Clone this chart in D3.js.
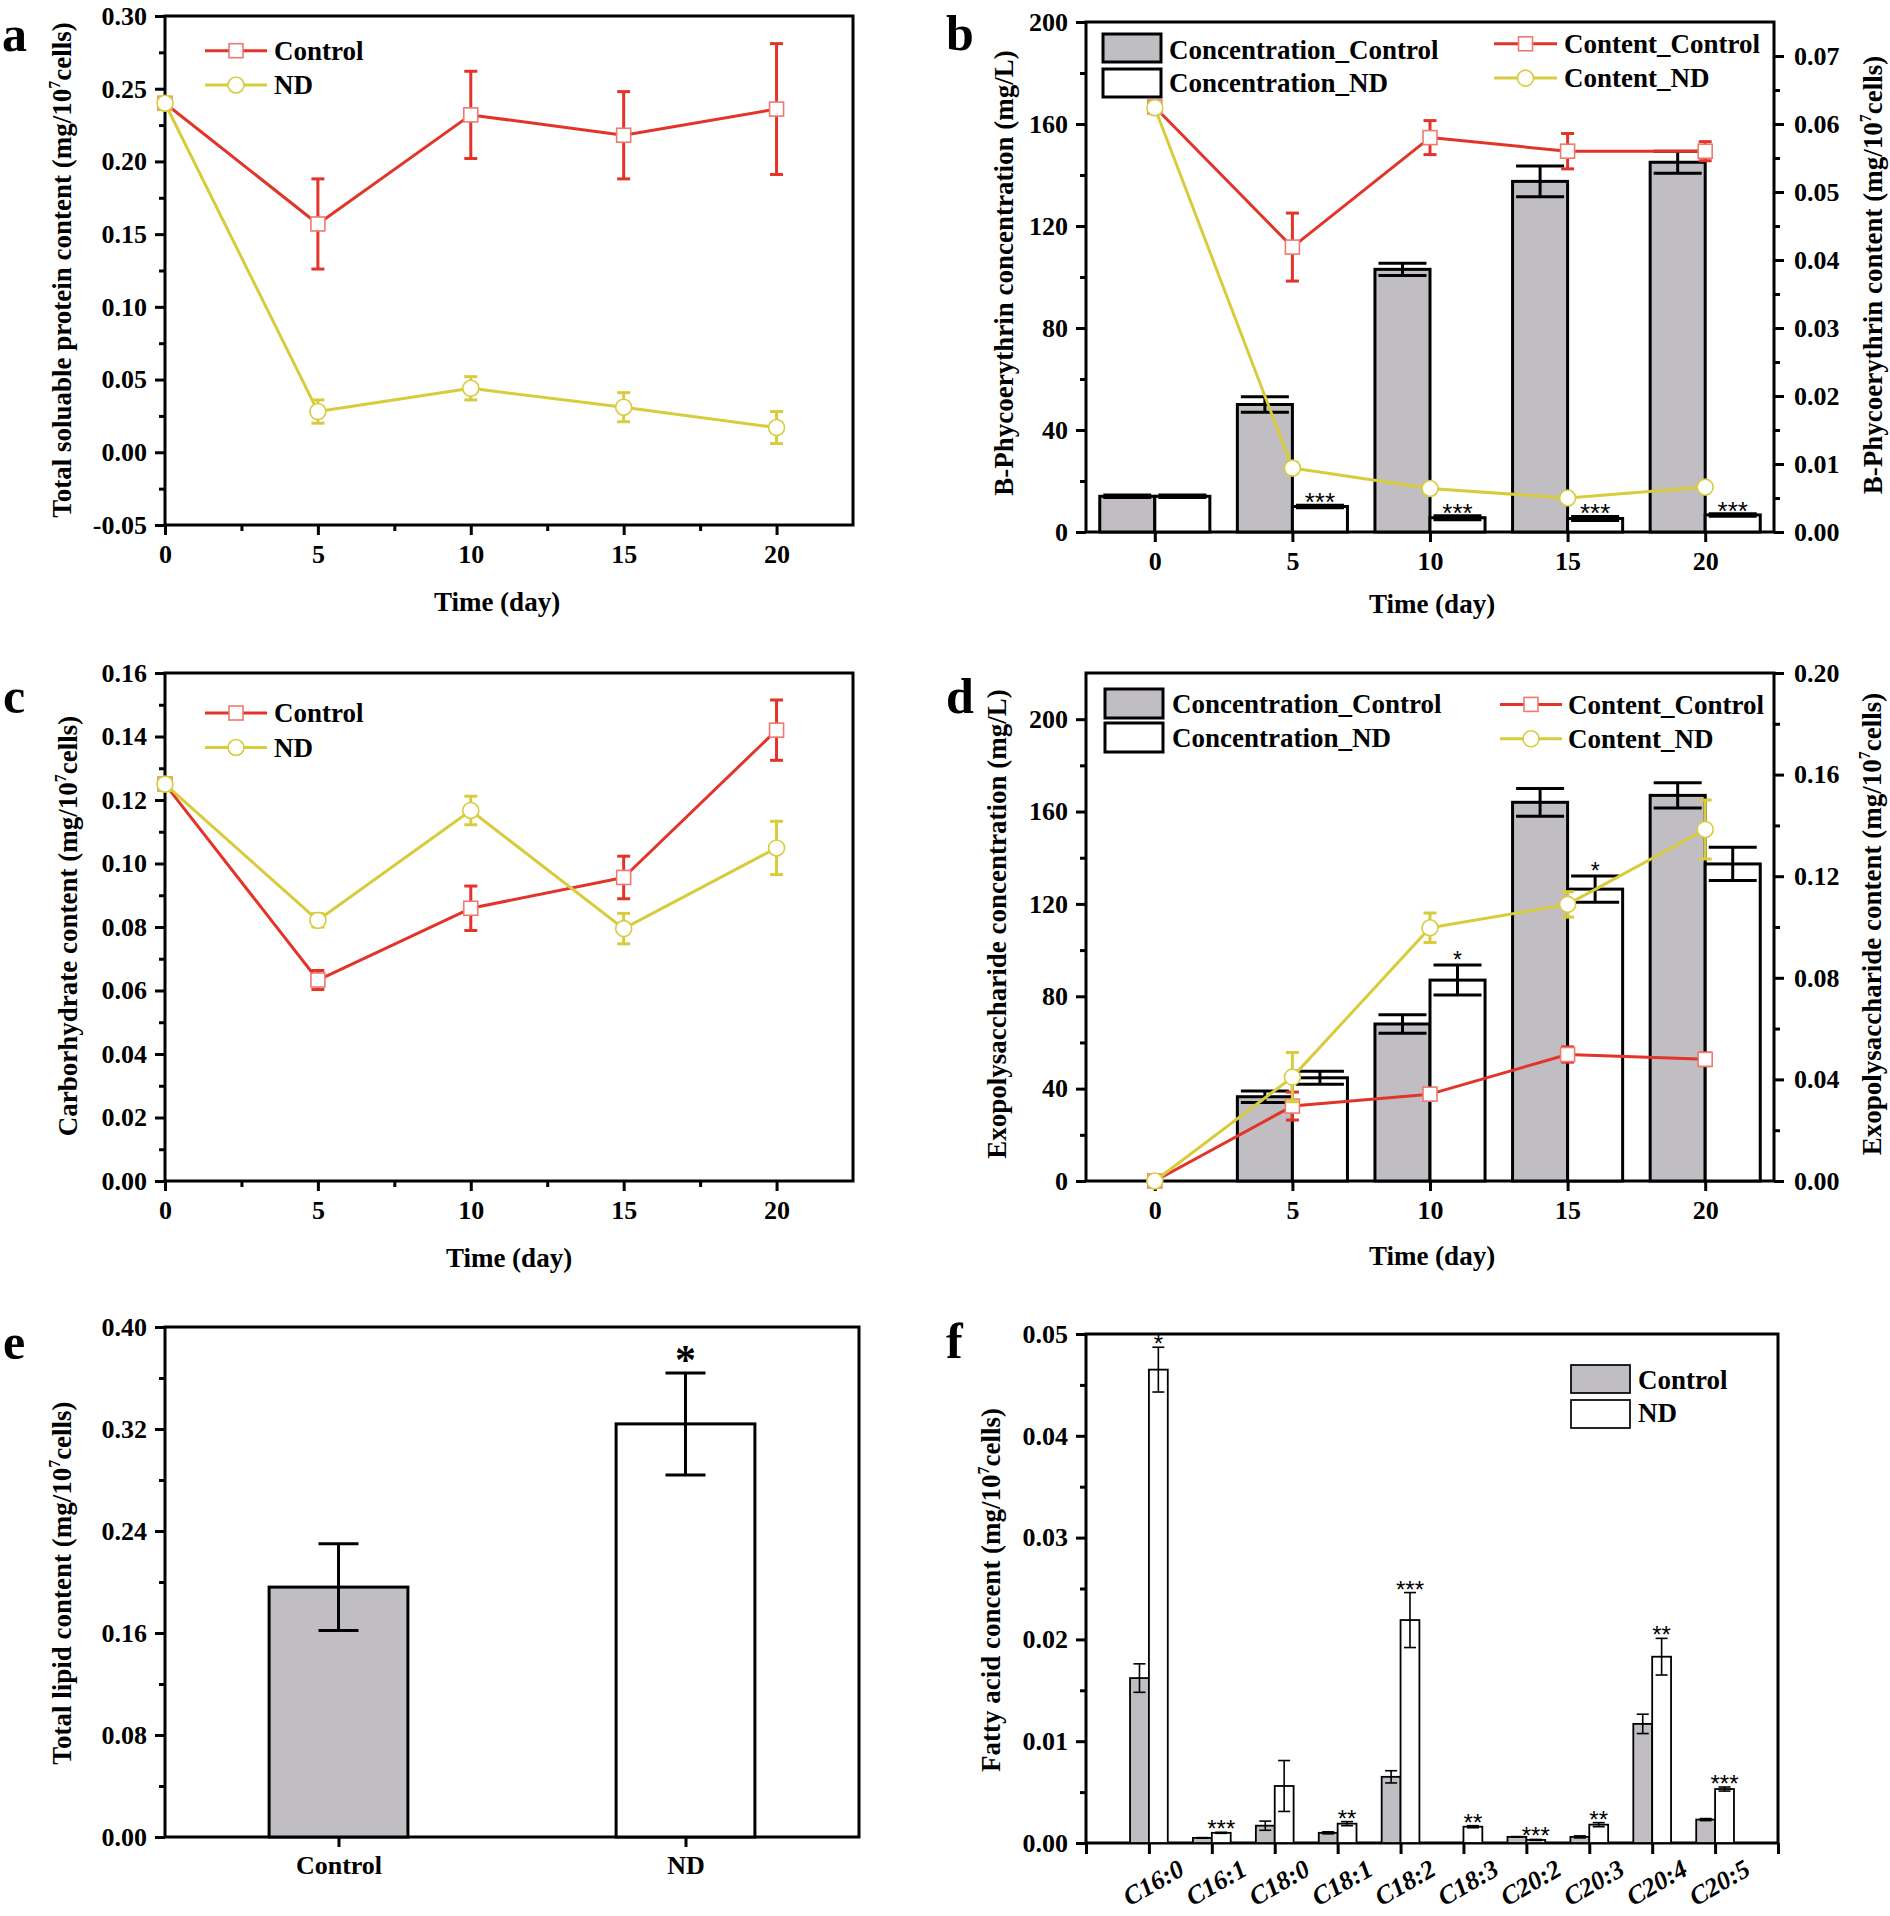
<!DOCTYPE html>
<html><head><meta charset="utf-8">
<script src="https://cdn.jsdelivr.net/npm/d3@7"></script>
<style>
body{margin:0;background:#fff;}
</style></head><body>
<svg id="chart" width="1890" height="1916" xmlns="http://www.w3.org/2000/svg"></svg>
<script>
// ---------------- DATA ----------------
const days = [0, 5, 10, 15, 20];
// (a) total soluble protein
const proteinControl = [0.240, 0.157, 0.232, 0.218, 0.236];
const proteinControlErr = [0.004, 0.031, 0.030, 0.030, 0.045];
const proteinND = [0.240, 0.028, 0.044, 0.031, 0.017];
const proteinNDErr = [0.004, 0.008, 0.008, 0.010, 0.011];
// (b) B-phycoerythrin
const peConcControl = [14, 50, 103, 137.5, 145];
const peConcControlErr = [0.5, 3, 2.4, 6, 4.3];
const peConcND = [14, 10, 5.6, 5.3, 6.7];
const peConcNDErr = [0.5, 0.5, 0.8, 0.8, 0.5];
const peContControl = [0.0625, 0.0419, 0.0580, 0.0560, 0.0560];
const peContControlErr = [0.0005, 0.0050, 0.0025, 0.0026, 0.0014];
const peContND = [0.0624, 0.0094, 0.0064, 0.0050, 0.0066];
const peContNDErr = [0.0005, 0.0008, 0.0007, 0.0005, 0.0005];
const peSig = ["", "***", "***", "***", "***"];
// (c) carbohydrate
const carbControl = [0.125, 0.0633, 0.0859, 0.0956, 0.1420];
const carbControlErr = [0.002, 0.0030, 0.0070, 0.0067, 0.0095];
const carbND = [0.125, 0.0821, 0.1167, 0.0795, 0.1049];
const carbNDErr = [0.002, 0.0021, 0.0045, 0.0048, 0.0084];
// (d) exopolysaccharide
const epsConcControl = [0, 36.5, 68, 164, 167];
const epsConcControlErr = [0, 2.5, 4, 6, 5.5];
const epsConcND = [0, 44.7, 87, 126.4, 137.3];
const epsConcNDErr = [0, 2.8, 6.5, 5.7, 7.2];
const epsContControl = [0, 0.0295, 0.0342, 0.0498, 0.0479];
const epsContControlErr = [0.001, 0.0055, 0.0020, 0.0030, 0.0025];
const epsContND = [0, 0.0409, 0.0997, 0.1089, 0.1384];
const epsContNDErr = [0.001, 0.0097, 0.0058, 0.0050, 0.0116];
const epsSig = ["", "", "*", "*", ""];
// (e) total lipid
const lipidGroups = ["Control", "ND"];
const lipidValues = [0.196, 0.324];
const lipidErr = [0.034, 0.040];
const lipidSig = ["", "*"];
// (f) fatty acids
const fattyAcids = ["C16:0","C16:1","C18:0","C18:1","C18:2","C18:3","C20:2","C20:3","C20:4","C20:5"];
const faControl = [0.0162, 0.0005, 0.0017, 0.0010, 0.0065, 0, 0.0006, 0.0006, 0.0117, 0.0023];
const faControlErr = [0.0014, 0.00003, 0.00045, 0.0001, 0.0006, 0, 0.00003, 0.0001, 0.00095, 0.0001];
const faND = [0.0465, 0.0010, 0.0056, 0.0019, 0.0219, 0.0016, 0.0003, 0.0018, 0.0183, 0.0053];
const faNDErr = [0.0022, 0.00005, 0.0025, 0.0002, 0.0027, 0.0001, 0.00005, 0.0002, 0.0018, 0.0002];
const faSig = ["*","***","","**","***","**","***","**","**","***"];
// tick values
const dayTicks = [0, 5, 10, 15, 20];
const dayMinor = [2.5, 7.5, 12.5, 17.5];
const aTicks = [-0.05, 0, 0.05, 0.10, 0.15, 0.20, 0.25, 0.30];
const cTicks = [0, 0.02, 0.04, 0.06, 0.08, 0.10, 0.12, 0.14, 0.16];
const bLeftTicks = [0, 40, 80, 120, 160, 200];
const bRightTicks = [0, 0.01, 0.02, 0.03, 0.04, 0.05, 0.06, 0.07];
const dLeftTicks = [0, 40, 80, 120, 160, 200];
const dRightTicks = [0, 0.04, 0.08, 0.12, 0.16, 0.20];
const eTicks = [0, 0.08, 0.16, 0.24, 0.32, 0.40];
const fTicks = [0, 0.01, 0.02, 0.03, 0.04, 0.05];

// ---------------- STYLE ----------------
const FONT = '"Liberation Serif","Times New Roman",serif';
const SANS = '"Liberation Sans",Arial,sans-serif';
const RED = "#e3342a", MRED = "#ee7a70", YEL = "#d8cc3c", GREY = "#c0bec2";
const svg = d3.select("#chart");
svg.append("rect").attr("width",1890).attr("height",1916).attr("fill","#fff");

function styleAxis(g, fs){
  g.select(".domain").remove();
  g.selectAll(".tick line").attr("stroke","#000").attr("stroke-width",3);
  g.selectAll(".tick text").attr("font-family",FONT).attr("font-weight","bold")
    .attr("font-size",fs).attr("fill","#000");
}
function addAxis(axis, tx, ty, fs){
  const g = svg.append("g").attr("transform",`translate(${tx},${ty})`).call(axis);
  styleAxis(g, fs || 26);
  return g;
}
function frame(P){
  svg.append("rect").attr("x",P.L).attr("y",P.T).attr("width",P.R-P.L).attr("height",P.B-P.T)
    .attr("fill","none").attr("stroke","#000").attr("stroke-width",3);
}
function text(x, y, s, opts){
  opts = opts || {};
  return svg.append("text").attr("x",x).attr("y",y).text(s)
    .attr("font-family",opts.family || FONT).attr("font-weight",opts.weight || "bold")
    .attr("font-size",opts.size || 27).attr("text-anchor",opts.anchor || "start").attr("fill","#000")
    .attr("font-style",opts.style || "normal");
}
function title(x, y, rot, pre, sup, post){
  const t = svg.append("text").attr("transform",`translate(${x},${y}) rotate(${rot})`)
    .attr("text-anchor","middle").attr("font-family",FONT).attr("font-weight","bold").attr("font-size",27).attr("fill","#000");
  t.append("tspan").text(pre);
  if (sup){
    t.append("tspan").attr("font-size",16).attr("dy",-11).text(sup);
    t.append("tspan").attr("dy",11).text(post);
  }
}
function errBar(x, yTop, yBot, color, cap, sw){
  const g = svg.append("g").attr("stroke",color).attr("stroke-width",sw);
  g.append("line").attr("x1",x).attr("x2",x).attr("y1",yTop).attr("y2",yBot);
  g.append("line").attr("x1",x-cap/2).attr("x2",x+cap/2).attr("y1",yTop).attr("y2",yTop);
  g.append("line").attr("x1",x-cap/2).attr("x2",x+cap/2).attr("y1",yBot).attr("y2",yBot);
}
function series(xScale, yScale, vals, errs, color, marker){
  const pts = vals.map((v,i)=>[xScale(days[i]), yScale(v)]);
  svg.append("path").datum(pts).attr("d", d3.line()).attr("fill","none")
    .attr("stroke",color).attr("stroke-width",3).attr("stroke-linejoin","round");
  vals.forEach((v,i)=>{ if(errs[i]) errBar(xScale(days[i]), yScale(v+errs[i]), yScale(v-errs[i]), color, 13, 3); });
  pts.forEach(p=>drawMarker(p[0], p[1], marker));
}
function drawMarker(x, y, marker){
  if (marker === "square"){
    svg.append("rect").attr("x",x-7).attr("y",y-7).attr("width",14).attr("height",14)
      .attr("fill","#fff").attr("stroke",MRED).attr("stroke-width",1.6);
  } else {
    svg.append("circle").attr("cx",x).attr("cy",y).attr("r",8)
      .attr("fill","#fff").attr("stroke",YEL).attr("stroke-width",1.6);
  }
}
function lineLegend(x1, x2, y, color, marker, label, tx, ty){
  svg.append("line").attr("x1",x1).attr("x2",x2).attr("y1",y).attr("y2",y).attr("stroke",color).attr("stroke-width",3);
  drawMarker((x1+x2)/2, y, marker);
  text(tx, ty, label);
}
function boxLegend(x, y, w, h, fill, sw, label, tx, ty){
  svg.append("rect").attr("x",x).attr("y",y).attr("width",w).attr("height",h)
    .attr("fill",fill).attr("stroke","#000").attr("stroke-width",sw);
  text(tx, ty, label);
}
const f2 = d => d.toFixed(2);
function minorVals(a, b, step){ const r=[]; for(let v=a; v<b-1e-9; v+=step) r.push(+v.toFixed(6)); return r; }

// ---------------- PANEL A ----------------
{
  const P = {L:165, R:853, T:16, B:525};
  const x = d3.scaleLinear().domain([0,22.5]).range([P.L,P.R]);
  const y = d3.scaleLinear().domain([-0.05,0.30]).range([P.B,P.T]);
  frame(P);
  addAxis(d3.axisLeft(y).tickValues(aTicks).tickFormat(f2).tickSize(10).tickPadding(8), P.L, 0);
  addAxis(d3.axisLeft(y).tickValues(minorVals(-0.025,0.30,0.05)).tickFormat("").tickSize(6), P.L, 0);
  addAxis(d3.axisBottom(x).tickValues(dayTicks).tickFormat(d3.format("d")).tickSize(10).tickPadding(10), 0, P.B);
  addAxis(d3.axisBottom(x).tickValues(dayMinor).tickFormat("").tickSize(6), 0, P.B);
  series(x, y, proteinControl, proteinControlErr, RED, "square");
  series(x, y, proteinND, proteinNDErr, YEL, "circle");
  lineLegend(205, 267, 50.7, RED, "square", "Control", 274, 59.5);
  lineLegend(205, 267, 85, YEL, "circle", "ND", 274, 93.5);
  title(71, 270, -90, "Total soluable protein content (mg/10", "7", "cells)");
  text(497, 611, "Time (day)", {anchor:"middle"});
  text(2, 51, "a", {size:50});
}

// ---------------- PANEL C ----------------
{
  const P = {L:165, R:853, T:673, B:1181};
  const x = d3.scaleLinear().domain([0,22.5]).range([P.L,P.R]);
  const y = d3.scaleLinear().domain([0,0.16]).range([P.B,P.T]);
  frame(P);
  addAxis(d3.axisLeft(y).tickValues(cTicks).tickFormat(f2).tickSize(10).tickPadding(8), P.L, 0);
  addAxis(d3.axisLeft(y).tickValues(minorVals(0.01,0.16,0.02)).tickFormat("").tickSize(6), P.L, 0);
  addAxis(d3.axisBottom(x).tickValues(dayTicks).tickFormat(d3.format("d")).tickSize(10).tickPadding(10), 0, P.B);
  addAxis(d3.axisBottom(x).tickValues(dayMinor).tickFormat("").tickSize(6), 0, P.B);
  series(x, y, carbControl, carbControlErr, RED, "square");
  series(x, y, carbND, carbNDErr, YEL, "circle");
  lineLegend(205, 267, 713, RED, "square", "Control", 274, 722);
  lineLegend(205, 267, 747.5, YEL, "circle", "ND", 274, 756.5);
  title(77, 926, -90, "Carborhydrate content (mg/10", "7", "cells)");
  text(509, 1267, "Time (day)", {anchor:"middle"});
  text(3, 713, "c", {size:50});
}

// ---------------- BAR + LINE PANELS (B, D) ----------------
function barLinePanel(P, leftMax, rightMax, leftTicks, leftMinor, rightTicks, rightMinor,
                      concC, concCErr, concN, concNErr, contC, contCErr, contN, contNErr, sig, sigSize, sigOff){
  const x = d3.scaleLinear().domain([-2.5,22.5]).range([P.L,P.R]);
  const yL = d3.scaleLinear().domain([0,leftMax]).range([P.B,P.T]);
  const yR = d3.scaleLinear().domain([0,rightMax]).range([P.B,P.T]);
  frame(P);
  addAxis(d3.axisLeft(yL).tickValues(leftTicks).tickFormat(d3.format("d")).tickSize(10).tickPadding(8), P.L, 0);
  addAxis(d3.axisLeft(yL).tickValues(leftMinor).tickFormat("").tickSize(6), P.L, 0);
  addAxis(d3.axisRight(yR).tickValues(rightTicks).tickFormat(f2).tickSize(10).tickPadding(10), P.R, 0);
  addAxis(d3.axisRight(yR).tickValues(rightMinor).tickFormat("").tickSize(6), P.R, 0);
  addAxis(d3.axisBottom(x).tickValues(dayTicks).tickFormat(d3.format("d")).tickSize(10).tickPadding(10), 0, P.B);
  // bars
  days.forEach((d,i)=>{
    if (concC[i] > 0) svg.append("rect").attr("x",x(d-2)).attr("width",x(d)-x(d-2))
      .attr("y",yL(concC[i])).attr("height",yL(0)-yL(concC[i])).attr("fill",GREY).attr("stroke","#000").attr("stroke-width",3);
    if (concN[i] > 0) svg.append("rect").attr("x",x(d)).attr("width",x(d+2)-x(d))
      .attr("y",yL(concN[i])).attr("height",yL(0)-yL(concN[i])).attr("fill","#fff").attr("stroke","#000").attr("stroke-width",3);
  });
  days.forEach((d,i)=>{
    if (concCErr[i]) errBar(x(d-1), yL(concC[i]+concCErr[i]), yL(concC[i]-concCErr[i]), "#000", 48, 3);
    if (concNErr[i]) errBar(x(d+1), yL(concN[i]+concNErr[i]), yL(concN[i]-concNErr[i]), "#000", 48, 3);
    if (sig[i]) svg.append("text").attr("x",x(d+1)).attr("y",yL(concN[i]+concNErr[i]) + sigOff)
      .attr("text-anchor","middle").attr("font-family",SANS).attr("font-size",sigSize).text(sig[i]);
  });
  series(x, yR, contC, contCErr, RED, "square");
  series(x, yR, contN, contNErr, YEL, "circle");
}

// ---------------- PANEL B ----------------
{
  const P = {L:1086, R:1774, T:22, B:532};
  barLinePanel(P, 200, 0.075, bLeftTicks, minorVals(20,200,40), bRightTicks, minorVals(0.005,0.075,0.01),
    peConcControl, peConcControlErr, peConcND, peConcNDErr, peContControl, peContControlErr, peContND, peContNDErr, peSig, 26, 6);
  boxLegend(1103, 34, 58, 28, GREY, 3, "Concentration_Control", 1169, 58.6);
  boxLegend(1103, 69, 58, 28, "#fff", 3, "Concentration_ND", 1169, 91.7);
  lineLegend(1494, 1557, 43.8, RED, "square", "Content_Control", 1564, 53);
  lineLegend(1494, 1557, 78.1, YEL, "circle", "Content_ND", 1564, 87);
  title(1013, 273, -90, "B-Phycoerythrin concentration (mg/L)");
  title(1882, 275, -90, "B-Phycoerythrin content (mg/10", "7", "cells)");
  text(1432, 613, "Time (day)", {anchor:"middle"});
  text(946, 50, "b", {size:50});
}

// ---------------- PANEL D ----------------
{
  const P = {L:1086, R:1774, T:673, B:1181};
  barLinePanel(P, 220, 0.20, dLeftTicks, minorVals(20,220,40), dRightTicks, minorVals(0.02,0.20,0.04),
    epsConcControl, epsConcControlErr, epsConcND, epsConcNDErr, epsContControl, epsContControlErr, epsContND, epsContNDErr, epsSig, 23, 3);
  boxLegend(1105, 689, 58, 29, GREY, 3, "Concentration_Control", 1172, 712.7);
  boxLegend(1105, 723, 58, 29, "#fff", 3, "Concentration_ND", 1172, 746.7);
  lineLegend(1500, 1562, 704.4, RED, "square", "Content_Control", 1568, 713.5);
  lineLegend(1500, 1562, 738.8, YEL, "circle", "Content_ND", 1568, 748);
  title(1006, 924, -90, "Exopolysaccharide concentration (mg/L)");
  title(1881, 924, -90, "Exopolysaccharide content (mg/10", "7", "cells)");
  text(1432, 1265, "Time (day)", {anchor:"middle"});
  text(946, 713, "d", {size:50});
}

// ---------------- PANEL E ----------------
{
  const P = {L:165, R:859, T:1327, B:1837};
  const x = d3.scaleLinear().domain([0.5,2.5]).range([P.L,P.R]);
  const y = d3.scaleLinear().domain([0,0.40]).range([P.B,P.T]);
  frame(P);
  addAxis(d3.axisLeft(y).tickValues(eTicks).tickFormat(f2).tickSize(10).tickPadding(8), P.L, 0);
  addAxis(d3.axisLeft(y).tickValues(minorVals(0.04,0.40,0.08)).tickFormat("").tickSize(6), P.L, 0);
  addAxis(d3.axisBottom(x).tickValues([1,2]).tickFormat(d=>lipidGroups[d-1]).tickSize(10).tickPadding(9), 0, P.B);
  lipidValues.forEach((v,i)=>{
    const c = i+1;
    svg.append("rect").attr("x",x(c-0.2)).attr("width",x(c+0.2)-x(c-0.2)).attr("y",y(v)).attr("height",y(0)-y(v))
      .attr("fill", i===0 ? GREY : "#fff").attr("stroke","#000").attr("stroke-width",3);
    errBar(x(c), y(v+lipidErr[i]), y(v-lipidErr[i]), "#000", 40, 3);
    if (lipidSig[i]) text(x(c), y(v+lipidErr[i]) + 1, lipidSig[i], {anchor:"middle", size:42});
  });
  title(71, 1583, -90, "Total lipid content (mg/10", "7", "cells)");
  text(3, 1359, "e", {size:50});
}

// ---------------- PANEL F ----------------
{
  const P = {L:1086, R:1778, T:1334, B:1843};
  const x = d3.scaleLinear().domain([0,11]).range([P.L,P.R]);
  const y = d3.scaleLinear().domain([0,0.05]).range([P.B,P.T]);
  frame(P);
  addAxis(d3.axisLeft(y).tickValues(fTicks).tickFormat(f2).tickSize(10).tickPadding(8), P.L, 0);
  addAxis(d3.axisLeft(y).tickValues(minorVals(0.005,0.05,0.01)).tickFormat("").tickSize(6), P.L, 0);
  addAxis(d3.axisBottom(x).tickValues(d3.range(0,12)).tickFormat("").tickSize(11), 0, P.B);
  const bw = 0.3;
  fattyAcids.forEach((name,i)=>{
    const c = i+1;
    if (faControl[i] > 0){
      svg.append("rect").attr("x",x(c-bw)).attr("width",x(c)-x(c-bw)).attr("y",y(faControl[i])).attr("height",y(0)-y(faControl[i]))
        .attr("fill",GREY).attr("stroke","#000").attr("stroke-width",1.8);
      if (faControlErr[i]) errBar(x(c-bw/2), y(faControl[i]+faControlErr[i]), y(faControl[i]-faControlErr[i]), "#000", 12, 1.6);
    }
    svg.append("rect").attr("x",x(c)).attr("width",x(c+bw)-x(c)).attr("y",y(faND[i])).attr("height",y(0)-y(faND[i]))
      .attr("fill","#fff").attr("stroke","#000").attr("stroke-width",1.8);
    if (faNDErr[i]) errBar(x(c+bw/2), y(faND[i]+faNDErr[i]), y(faND[i]-faNDErr[i]), "#000", 12, 1.6);
    if (faSig[i]) svg.append("text").attr("x",x(c+bw/2)).attr("y",y(faND[i]+faNDErr[i]) + 5)
      .attr("text-anchor","middle").attr("font-family",SANS).attr("font-size",24).text(faSig[i]);
    svg.append("text").attr("transform",`translate(${x(c)+37},${P.B+31}) rotate(-30)`)
      .attr("text-anchor","end").attr("font-family",FONT).attr("font-weight","bold").attr("font-style","italic")
      .attr("font-size",26).text(name);
  });
  boxLegend(1571, 1365, 59, 28, GREY, 1.7, "Control", 1638, 1389);
  boxLegend(1571, 1400, 59, 28, "#fff", 1.7, "ND", 1638, 1422);
  title(1000, 1590, -90, "Fatty acid concent (mg/10", "7", "cells)");
  text(946, 1358, "f", {size:50});
}
</script>
</body></html>
